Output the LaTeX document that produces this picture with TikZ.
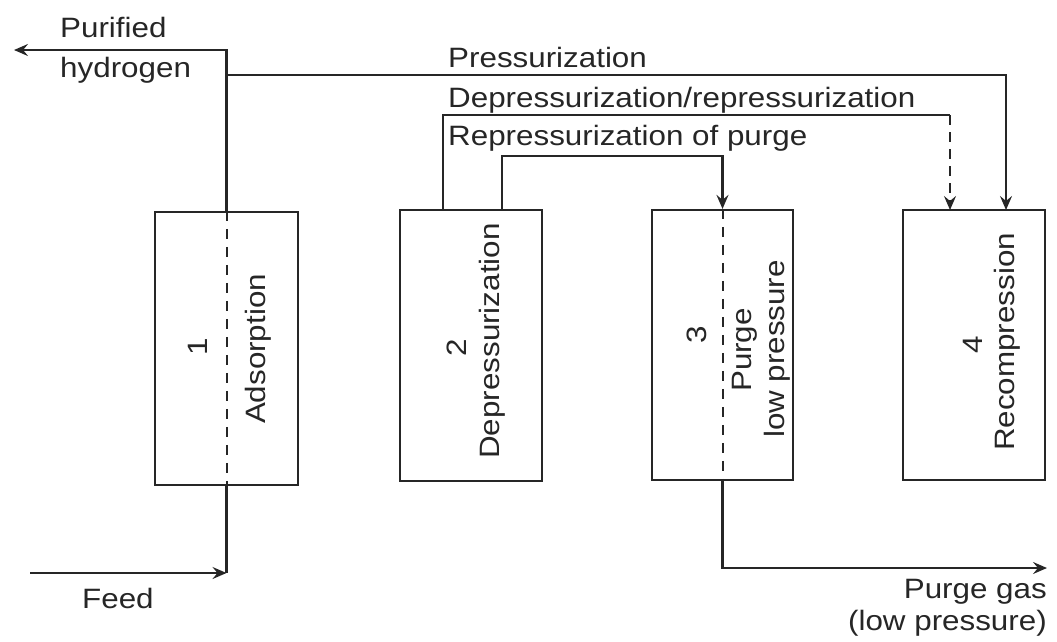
\documentclass[tikz,border=0pt]{standalone}
\usepackage{fontspec}
\setmainfont{Liberation Sans}[FakeStretch=1.12]
\usetikzlibrary{arrows.meta}
\begin{document}
\begin{tikzpicture}[x=1pt,y=-1pt,
  ink/.style={color=black!85},
  line/.style={ink, line width=2.2pt},
  arr/.style={line, -{Stealth[length=14pt,width=12pt,inset=5pt]}},
  dsh/.style={ink, line width=2pt, dash pattern=on 10pt off 8pt},
  box/.style={draw=black!85, line width=2.2pt, inner sep=0pt},
  lab/.style={font=\fontsize{28}{33}\selectfont, text=black!85, inner sep=0pt},
  vlab/.style={lab, rotate=90, anchor=center}]
\useasboundingbox (0,0) rectangle (1057,641);

% boxes
\node[box, minimum width=143pt, minimum height=273pt] (b1) at (226.5,348.5) {};
\node[box, minimum width=142pt, minimum height=271pt] (b2) at (471,345.5) {};
\node[box, minimum width=141pt, minimum height=270pt] (b3) at (722.5,345) {};
\node[box, minimum width=142pt, minimum height=270pt] (b4) at (974,345) {};

% box labels
\node[vlab] (n1) at (198,347) {1};
\node[vlab] (l1) at (258,349) {Adsorption};
\node[vlab] (n2) at (457,348) {2};
\node[vlab] (l2) at (492,341) {Depressurization};
\node[vlab] (n3) at (697,335) {3};
\node[vlab] (l3a) at (745,350) {Purge};
\node[vlab] (l3b) at (777,349) {low pressure};
\node[vlab] (n4) at (973,345) {4};
\node[vlab] (l4) at (1007,342) {Recompression};

% dashed lines through beds 1 and 3
\draw[dsh] (b1.north) -- (b1.south);
\draw[dsh] (b3.north) -- (b3.south);

% coordinates
\coordinate (ph) at (14,50);
\coordinate (prs) at (226.5,75);
\coordinate (b4p) at (1006,210);
\coordinate (d2) at (443,210);
\coordinate (dturn) at (950,115);
\coordinate (d4) at (950,210);
\coordinate (r2) at (502,210);
\coordinate (rturn) at (722.5,156);
\coordinate (feedin) at (30,573);
\coordinate (feedc) at (226.5,573);
\coordinate (pgend) at (1047,568);

% connectors
\draw[arr] (b1.north) |- (ph);
\draw[arr] (prs) -| (b4p);
\draw[line] (d2) |- (dturn);
\draw[arr, dash pattern=on 10pt off 7pt] (dturn) -- (d4);
\draw[arr] (r2) |- (rturn) -- (rturn |- b3.north);
\draw[line] (b1.south) -- (feedc);
\draw[arr] (feedin) -- (feedc);
\draw[arr] (b3.south) |- (pgend);

% texts
\node[lab, anchor=base west] (tpur) at (60,37) {Purified};
\node[lab, anchor=base west] (thyd) at (60,77) {hydrogen};
\node[lab, anchor=base west] (tpr) at (448,67) {Pressurization};
\node[lab, anchor=base west] (tdep) at (448,107) {Depressurization/repressurization};
\node[lab, anchor=base west] (trep) at (448,145) {Repressurization of purge};
\node[lab, anchor=base west] (tfeed) at (82,608) {Feed};
\node[lab, anchor=base east] (tpg) at (1047,598) {Purge gas};
\node[lab, anchor=base east] (tlp) at (1047,630) {(low pressure)};
\end{tikzpicture}
\end{document}
